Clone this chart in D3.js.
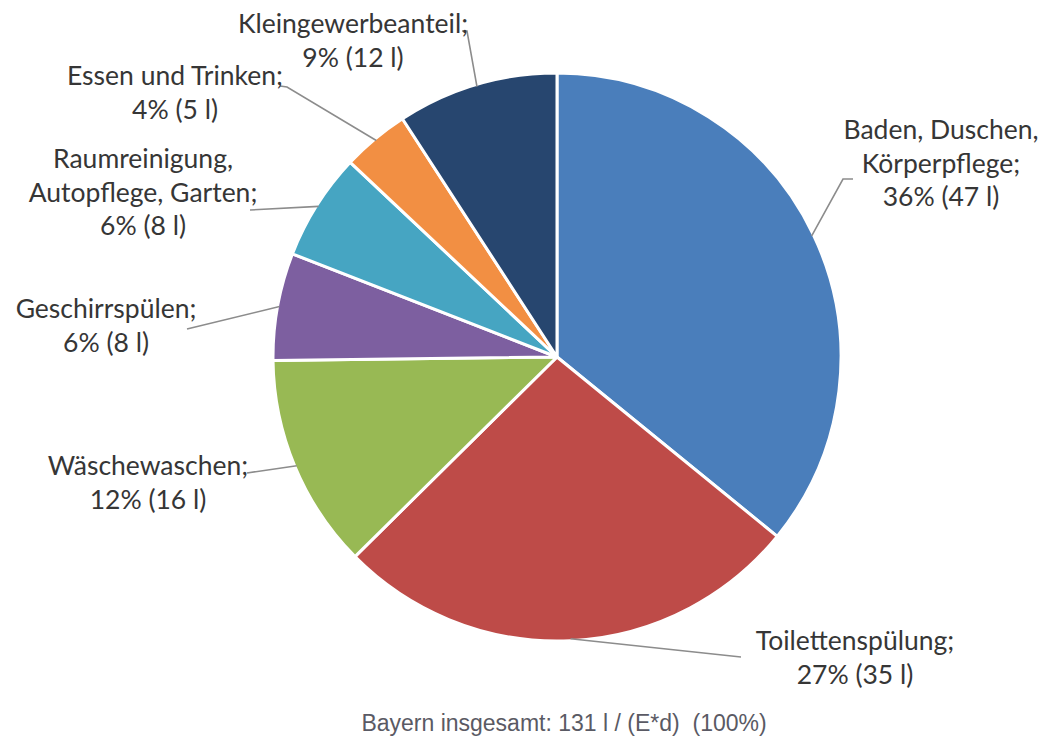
<!DOCTYPE html>
<html>
<head>
<meta charset="utf-8">
<script src="https://cdn.jsdelivr.net/npm/d3@7"></script>
<style>
  body { margin: 0; background: #fff; }
  svg { display: block; }
  .lbl { font-family: Lato, "Open Sans", sans-serif; fill: #363636; }
  .cap { font-family: "Liberation Sans", Arial, sans-serif; fill: #5a5a64; white-space: pre; }
</style>
</head>
<body>
<div id="Results"><svg width="1041" height="740"></svg></div>
<script>
// data
var categories = [
  "Baden, Duschen,\nKörperpflege",
  "Toilettenspülung",
  "Wäschewaschen",
  "Geschirrspülen",
  "Raumreinigung,\nAutopflege, Garten",
  "Essen und Trinken",
  "Kleingewerbeanteil"
];
var litres = [47, 35, 16, 8, 8, 5, 12];
var colors = ["#4a7ebb", "#be4b48", "#98b954", "#7d5fa0", "#46a5c2", "#f28f43", "#27466f"];
var caption = "Bayern insgesamt: 131 l / (E*d)  (100%)";

// label layout (centre x, first baseline, leader end points)
var labelLayout = [
  {x: 941, y: 139, pts: [[843, 179], [853, 179]]},
  {x: 855, y: 650, pts: [[741, 657]]},
  {x: 148, y: 475, pts: [[247, 473]]},
  {x: 106, y: 318, pts: [[187, 329]]},
  {x: 143, y: 168, pts: [[250, 210]]},
  {x: 175, y: 85,  pts: [[287, 87], [280, 86]]},
  {x: 353, y: 33,  pts: [[467, 31], [462, 31]]}
];

d3.select(window).on('load', init);
init();

function init() {
  var svg = d3.select('#Results').select('svg');
  svg.selectAll('*').remove();

  var cx = 557, cy = 357, r = 284;
  var total = d3.sum(litres);
  var data = litres.map(function(v, i) { return {name: categories[i], value: v, i: i}; });

  var pie = d3.pie().sort(null).value(function(d) { return d.value; });
  var arc = d3.arc().innerRadius(0).outerRadius(r);
  var arcs = pie(data);

  var g = svg.append('g').attr('transform', 'translate(' + cx + ',' + cy + ')');

  g.selectAll('.slice')
    .data(arcs)
    .enter().append('path')
    .attr('class', 'slice')
    .attr('d', arc)
    .attr('fill', function(d) { return colors[d.data.i]; })
    .attr('stroke', '#fff')
    .attr('stroke-width', 3)
    .attr('stroke-linejoin', 'round');

  // leader lines
  var line = d3.line();
  svg.selectAll('.leader')
    .data(arcs)
    .enter().append('path')
    .attr('class', 'leader')
    .attr('d', function(d) {
      var a = (d.startAngle + d.endAngle) / 2;
      var rr = r - 2;
      var start = [cx + rr * Math.sin(a), cy - rr * Math.cos(a)];
      return line([start].concat(labelLayout[d.data.i].pts));
    })
    .attr('fill', 'none')
    .attr('stroke', '#8c8c8c')
    .attr('stroke-width', 1.6);

  // labels
  var lh = 33.5;
  arcs.forEach(function(d) {
    var L = labelLayout[d.data.i];
    var lines = d.data.name.split('\n');
    lines[lines.length - 1] += ';';
    var pct = Math.round(d.data.value / total * 100);
    lines.push(pct + '% (' + d.data.value + ' l)');
    var t = svg.append('text')
      .attr('class', 'lbl')
      .attr('text-anchor', 'middle')
      .attr('font-size', 26.5);
    lines.forEach(function(s, k) {
      t.append('tspan').attr('x', L.x).attr('y', L.y + k * lh).text(s);
    });
  });

  svg.append('text')
    .attr('class', 'cap')
    .attr('x', 564)
    .attr('y', 731)
    .attr('text-anchor', 'middle')
    .attr('font-size', 23)
    .text(caption);
}
</script>
</body>
</html>
